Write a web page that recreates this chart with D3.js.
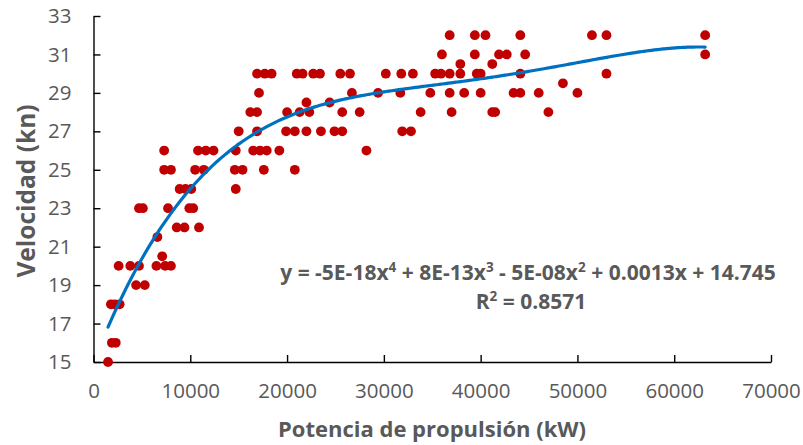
<!DOCTYPE html>
<html>
<head>
<meta charset="utf-8">
<script src="https://cdn.jsdelivr.net/npm/d3@7"></script>
<style>
  html, body { margin: 0; padding: 0; background: #fff; }
  svg { display: block; }
  text { font-family: "Open Sans", "Noto Sans", sans-serif; }
</style>
</head>
<body>
<svg id="chart" width="803" height="445"></svg>
<script>
// Propulsion power (kW) of each vessel
const power = [
  1500,
  1900, 2300,
  1800, 2200, 2700,
  2600, 3800, 4700,
  4400, 5300,
  4700, 5100,
  6600, 7100,
  6500, 7400, 8000,
  7700,
  8600, 9400, 10900,
  9900, 10300,
  8900, 9500, 10100,
  7300,
  7300, 8000,
  10500, 11400,
  10800, 11600, 12400,
  14700,
  14600, 15400,
  14700,
  15000,
  16200, 16900,
  16900,
  16500, 17200, 17900, 19200,
  17600,
  17100,
  16900, 17700, 18400,
  20000, 21300, 22300, 25700, 27500,
  19900, 20800, 22000, 23500, 24900, 25700,
  20800,
  21000, 21600, 22700, 23400, 25500, 26500,
  22000, 24400,
  26700, 29400,
  28200,
  30200, 31800, 33000, 35300, 35900, 36800, 37900, 39600, 40000, 44100, 53000,
  31700, 34800, 36800, 38300, 40000, 43400, 44100, 46000, 50000,
  48500,
  31900, 32800,
  33800, 37000, 41200, 41500, 47000,
  37900, 41200,
  36000, 39400, 41900, 42700, 44600, 63200,
  36800, 39400, 40500, 44100, 51500, 53000, 63200
];

// Service speed (kn), same order as power
const speed = [
  15,
  16, 16,
  18, 18, 18,
  20, 20, 20,
  19, 19,
  23, 23,
  21.5, 20.5,
  20, 20, 20,
  23,
  22, 22, 22,
  23, 23,
  24, 24, 24,
  26,
  25, 25,
  25, 25,
  26, 26, 26,
  24,
  25, 25,
  26,
  27,
  28, 28,
  27,
  26, 26, 26, 26,
  25,
  29,
  30, 30, 30,
  28, 28, 28, 28, 28,
  27, 27, 27, 27, 27, 27,
  25,
  30, 30, 30, 30, 30, 30,
  28.5, 28.5,
  29, 29,
  26,
  30, 30, 30, 30, 30, 30, 30, 30, 30, 30, 30,
  29, 29, 29, 29, 29, 29, 29, 29, 29,
  29.5,
  27, 27,
  28, 28, 28, 28, 28,
  30.5, 30.5,
  31, 31, 31, 31, 31, 31,
  32, 32, 32, 32, 32, 32, 32
];

const xTicks = [0, 10000, 20000, 30000, 40000, 50000, 60000, 70000];
const yTicks = [15, 17, 19, 21, 23, 25, 27, 29, 31, 33];

const xLabel = "Potencia de propulsión (kW)";
const yLabel = "Velocidad (kn)";
const eqParts = [
  ["y = -5E-18x", false], ["4", true],
  [" + 8E-13x", false], ["3", true],
  [" - 5E-08x", false], ["2", true],
  [" + 0.0013x + 14.745", false]
];
const r2Parts = [["R", false], ["2", true], [" = 0.8571", false]];

const svg = d3.select("#chart");
const x = d3.scaleLinear().domain([0, 70000]).range([93.5, 771]);
const y = d3.scaleLinear().domain([15, 33]).range([362, 16]);

const gray = "#595959";

// Axes: ticks point into the plot area
const xAxis = d3.axisBottom(x).tickValues(xTicks).tickFormat(d3.format("d"))
  .tickSizeInner(-7).tickSizeOuter(0).tickPadding(21);
const yAxis = d3.axisLeft(y).tickValues(yTicks).tickFormat(d3.format("d"))
  .tickSizeInner(-7).tickSizeOuter(0).tickPadding(22);

function styleAxis(g) {
  g.select(".domain").attr("stroke", "#000").attr("stroke-width", 1.4);
  g.selectAll(".tick line").attr("stroke", "#000").attr("stroke-width", 1.4);
  g.selectAll(".tick text").attr("fill", gray).style("font-size", "20.5px");
}

svg.append("g").attr("transform", `translate(0,${y(15)})`).call(xAxis).call(styleAxis);
svg.append("g").attr("transform", `translate(${x(0)},0)`).call(yAxis).call(styleAxis);

// Degree-4 least-squares polynomial trend line
function polyFit(xs, ys, deg) {
  const s = 10000;
  const n = deg + 1;
  const A = Array.from({length: n}, () => new Array(n + 1).fill(0));
  xs.forEach((xv, k) => {
    const t = xv / s;
    const pw = [];
    for (let i = 0; i < 2 * n; i++) pw.push(Math.pow(t, i));
    for (let i = 0; i < n; i++) {
      for (let j = 0; j < n; j++) A[i][j] += pw[i + j];
      A[i][n] += pw[i] * ys[k];
    }
  });
  for (let c = 0; c < n; c++) {
    let p = c;
    for (let r = c + 1; r < n; r++) if (Math.abs(A[r][c]) > Math.abs(A[p][c])) p = r;
    [A[c], A[p]] = [A[p], A[c]];
    for (let r = 0; r < n; r++) {
      if (r === c) continue;
      const f = A[r][c] / A[c][c];
      for (let j = c; j <= n; j++) A[r][j] -= f * A[c][j];
    }
  }
  const coef = A.map((row, i) => row[n] / row[i]);
  return xv => coef.reduce((acc, cf, i) => acc + cf * Math.pow(xv / s, i), 0);
}

const trend = polyFit(power, speed, 4);
const [xmin, xmax] = d3.extent(power);
const curveX = d3.range(0, 201).map(i => xmin + (xmax - xmin) * i / 200);

svg.append("g").selectAll("circle")
  .data(power.map((p, i) => [p, speed[i]]))
  .join("circle")
  .attr("cx", d => x(d[0]))
  .attr("cy", d => y(d[1]))
  .attr("r", 4.9)
  .attr("fill", "#C00000");

svg.append("path")
  .datum(curveX)
  .attr("fill", "none")
  .attr("stroke", "#0070C0")
  .attr("stroke-width", 3.2)
  .attr("stroke-linecap", "round")
  .attr("d", d3.line().x(d => x(d)).y(d => y(trend(d))).curve(d3.curveMonotoneX));

// Axis titles
svg.append("text")
  .attr("x", 432).attr("y", 437)
  .attr("text-anchor", "middle")
  .attr("fill", gray).style("font-size", "22px").style("font-weight", "bold")
  .text(xLabel);

svg.append("text")
  .attr("transform", "translate(35,191) rotate(-90)")
  .attr("text-anchor", "middle")
  .attr("fill", gray).style("font-size", "24.5px").style("font-weight", "bold")
  .text(yLabel);

// Trend line equation and R²
function richText(parts, cx, cy) {
  const t = svg.append("text")
    .attr("x", cx).attr("y", cy)
    .attr("text-anchor", "middle")
    .attr("fill", gray).style("font-size", "21px").style("font-weight", "bold");
  parts.forEach(([s, sup], i) => {
    const ts = t.append("tspan").text(s);
    if (sup) ts.style("font-size", "13.5px").attr("dy", -8);
    else ts.attr("dy", i > 0 && parts[i - 1][1] ? 8 : 0);
  });
  return t;
}
richText(eqParts, 528, 280);
richText(r2Parts, 531, 309);
</script>
</body>
</html>
